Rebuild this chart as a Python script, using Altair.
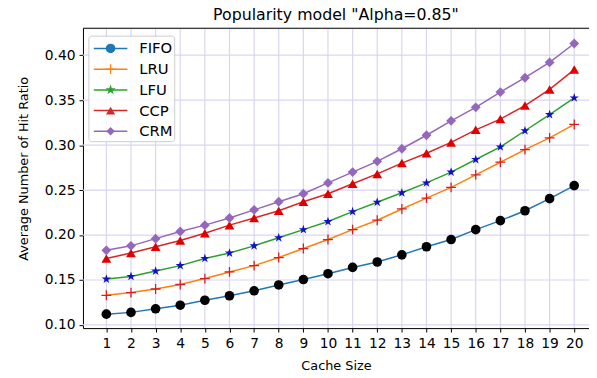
import altair as alt
import pandas as pd

# ---- data ----
cache_sizes = list(range(1, 21))
fifo = [0.112, 0.114, 0.118, 0.122, 0.1275, 0.1325, 0.138, 0.1445, 0.1505, 0.157,
        0.164, 0.170, 0.178, 0.187, 0.195, 0.206, 0.216, 0.227, 0.2405, 0.255]
lru = [0.133, 0.136, 0.140, 0.145, 0.1516, 0.159, 0.166, 0.175, 0.185, 0.195,
       0.206, 0.2165, 0.229, 0.241, 0.253, 0.267, 0.281, 0.295, 0.308, 0.323]
lfu = [0.151, 0.154, 0.160, 0.166, 0.174, 0.180, 0.188, 0.197, 0.206, 0.215,
       0.226, 0.2365, 0.247, 0.258, 0.270, 0.284, 0.298, 0.316, 0.334, 0.3525]
ccp = [0.174, 0.180, 0.187, 0.194, 0.202, 0.211, 0.219, 0.227, 0.237, 0.246,
       0.257, 0.268, 0.280, 0.291, 0.303, 0.317, 0.329, 0.344, 0.362, 0.384]
crm = [0.183, 0.188, 0.196, 0.204, 0.211, 0.219, 0.228, 0.237, 0.246, 0.258,
       0.270, 0.282, 0.296, 0.311, 0.327, 0.342, 0.359, 0.375, 0.392, 0.413]
series_names = ["FIFO", "LRU", "LFU", "CCP", "CRM"]
y_ticks = [0.10, 0.15, 0.20, 0.25, 0.30, 0.35, 0.40]

# ---- styles ----
line_colors = ["#1f77b4", "#ff7f0e", "#2ca02c", "#d62728", "#9467bd"]
marker_colors = ["#000000", "#d62020", "#1010c8", "#e00000", "#9467bd"]
STAR = ("M0,-1L0.2245,-0.309L0.951,-0.309L0.363,0.118L0.588,0.809L0,0.382"
        "L-0.588,0.809L-0.363,0.118L-0.951,-0.309L-0.2245,-0.309Z")
PLUS = "M-1,0L1,0M0,-1L0,1"
shapes = ["circle", PLUS, STAR, "triangle-up", "diamond"]
sizes = [95, 100, 120, 85, 75]
grid_color = "#dad5f1"
FONT = "DejaVu Sans"

values = [fifo, lru, lfu, ccp, crm]
rows = []
for name, vals in zip(series_names, values):
    for c, v in zip(cache_sizes, vals):
        rows.append({"series": name, "cache": c, "ratio": v})
df = pd.DataFrame(rows)
one = pd.DataFrame({"a": [0]})
xgrid_df = pd.DataFrame({"cache": cache_sizes})
ygrid_df = pd.DataFrame({"ratio": y_ticks})

W, H = 513, 304
xs = alt.Scale(domain=[0.05, 20.6], nice=False, zero=False)
ys = alt.Scale(domain=[0.0965, 0.43], nice=False, zero=False)

x_axis = alt.Axis(values=cache_sizes, title="Cache Size", grid=False,
                  domainColor="black", tickColor="black", tickSize=4,
                  labelColor="black", labelFontSize=14, labelFont=FONT, labelPadding=5,
                  titleFontSize=13, titleFont=FONT, titleFontWeight="normal",
                  titleColor="black", titlePadding=9, labelFlush=False)
y_axis = alt.Axis(values=y_ticks, format=".2f", title="Average Number of Hit Ratio",
                  grid=False, domainColor="black",
                  tickColor="black", tickSize=4, labelColor="black", labelFontSize=14,
                  labelFont=FONT, labelPadding=4, titleFontSize=13, titleFont=FONT,
                  titleFontWeight="normal", titleColor="black", titlePadding=14,
                  titleY=142, labelFlush=False)

X = alt.X("cache:Q", scale=xs, axis=x_axis)
Y = alt.Y("ratio:Q", scale=ys, axis=y_axis)

xgrid = alt.Chart(xgrid_df).mark_rule(color=grid_color, strokeWidth=1.2).encode(x=X)
ygrid = alt.Chart(ygrid_df).mark_rule(color=grid_color, strokeWidth=1.2).encode(y=Y)

lines = alt.Chart(df).mark_line(strokeWidth=1.5).encode(
    x=X, y=Y,
    color=alt.Color("series:N", scale=alt.Scale(domain=series_names, range=line_colors), legend=None),
    detail="series:N",
)
filled_pts = alt.Chart(df).transform_filter(alt.datum.series != "LRU").mark_point(
    filled=True, opacity=1).encode(
    x=X, y=Y,
    fill=alt.Fill("series:N", scale=alt.Scale(domain=series_names, range=marker_colors), legend=None),
    shape=alt.Shape("series:N", scale=alt.Scale(domain=series_names, range=shapes), legend=None),
    size=alt.Size("series:N", scale=alt.Scale(domain=series_names, range=sizes), legend=None),
)
plus_pts = alt.Chart(df).transform_filter(alt.datum.series == "LRU").mark_point(
    filled=False, size=sizes[1], opacity=1, strokeWidth=1.3, shape=PLUS,
    color=marker_colors[1]).encode(x=X, y=Y)

top_border = alt.Chart(one).mark_rule(color="black", strokeWidth=1).encode(
    x=alt.value(0), x2=alt.value(W), y=alt.value(0))

# ---- legend (drawn by hand) ----
leg_layers = [alt.Chart(one).mark_rect(fill="white", fillOpacity=0.85, stroke="#cccccc",
                                       strokeWidth=1, cornerRadius=3).encode(
    x=alt.value(6), x2=alt.value(93), y=alt.value(8), y2=alt.value(115))]
for i, name in enumerate(series_names):
    ly = 20.5 + 21 * i
    d = pd.DataFrame({"series": [name]})
    leg_layers.append(alt.Chart(d).mark_rule(strokeWidth=1.5, color=line_colors[i]).encode(
        x=alt.value(11), x2=alt.value(45), y=alt.value(ly)))
    if name == "LRU":
        leg_layers.append(alt.Chart(d).mark_point(
            filled=False, size=sizes[i], opacity=1, strokeWidth=1.3, shape=PLUS,
            color=line_colors[i]).encode(x=alt.value(28), y=alt.value(ly)))
    else:
        leg_layers.append(alt.Chart(d).mark_point(
            filled=True, size=sizes[i], opacity=1, shape=shapes[i],
            color=line_colors[i]).encode(x=alt.value(28), y=alt.value(ly)))
    leg_layers.append(alt.Chart(d).mark_text(
        align="left", baseline="middle", fontSize=15, font=FONT, color="black").encode(
        x=alt.value(57), y=alt.value(ly), text="series:N"))

chart = alt.layer(
    xgrid, ygrid, lines, filled_pts, plus_pts, top_border, *leg_layers,
).resolve_scale(color="independent", fill="independent", shape="independent",
                size="independent").properties(
    width=W, height=H,
    title=alt.Title('Popularity model "Alpha=0.85"', fontSize=16, fontWeight="normal",
                    font=FONT, color="black", anchor="middle", offset=5),
    padding={"left": 76, "top": 18, "right": 0, "bottom": 44},
    autosize=alt.AutoSizeParams(type="none"),
).configure_view(stroke=None).configure(background="white")

chart.save("out.html", embed_options={"renderer": "svg", "actions": False})
